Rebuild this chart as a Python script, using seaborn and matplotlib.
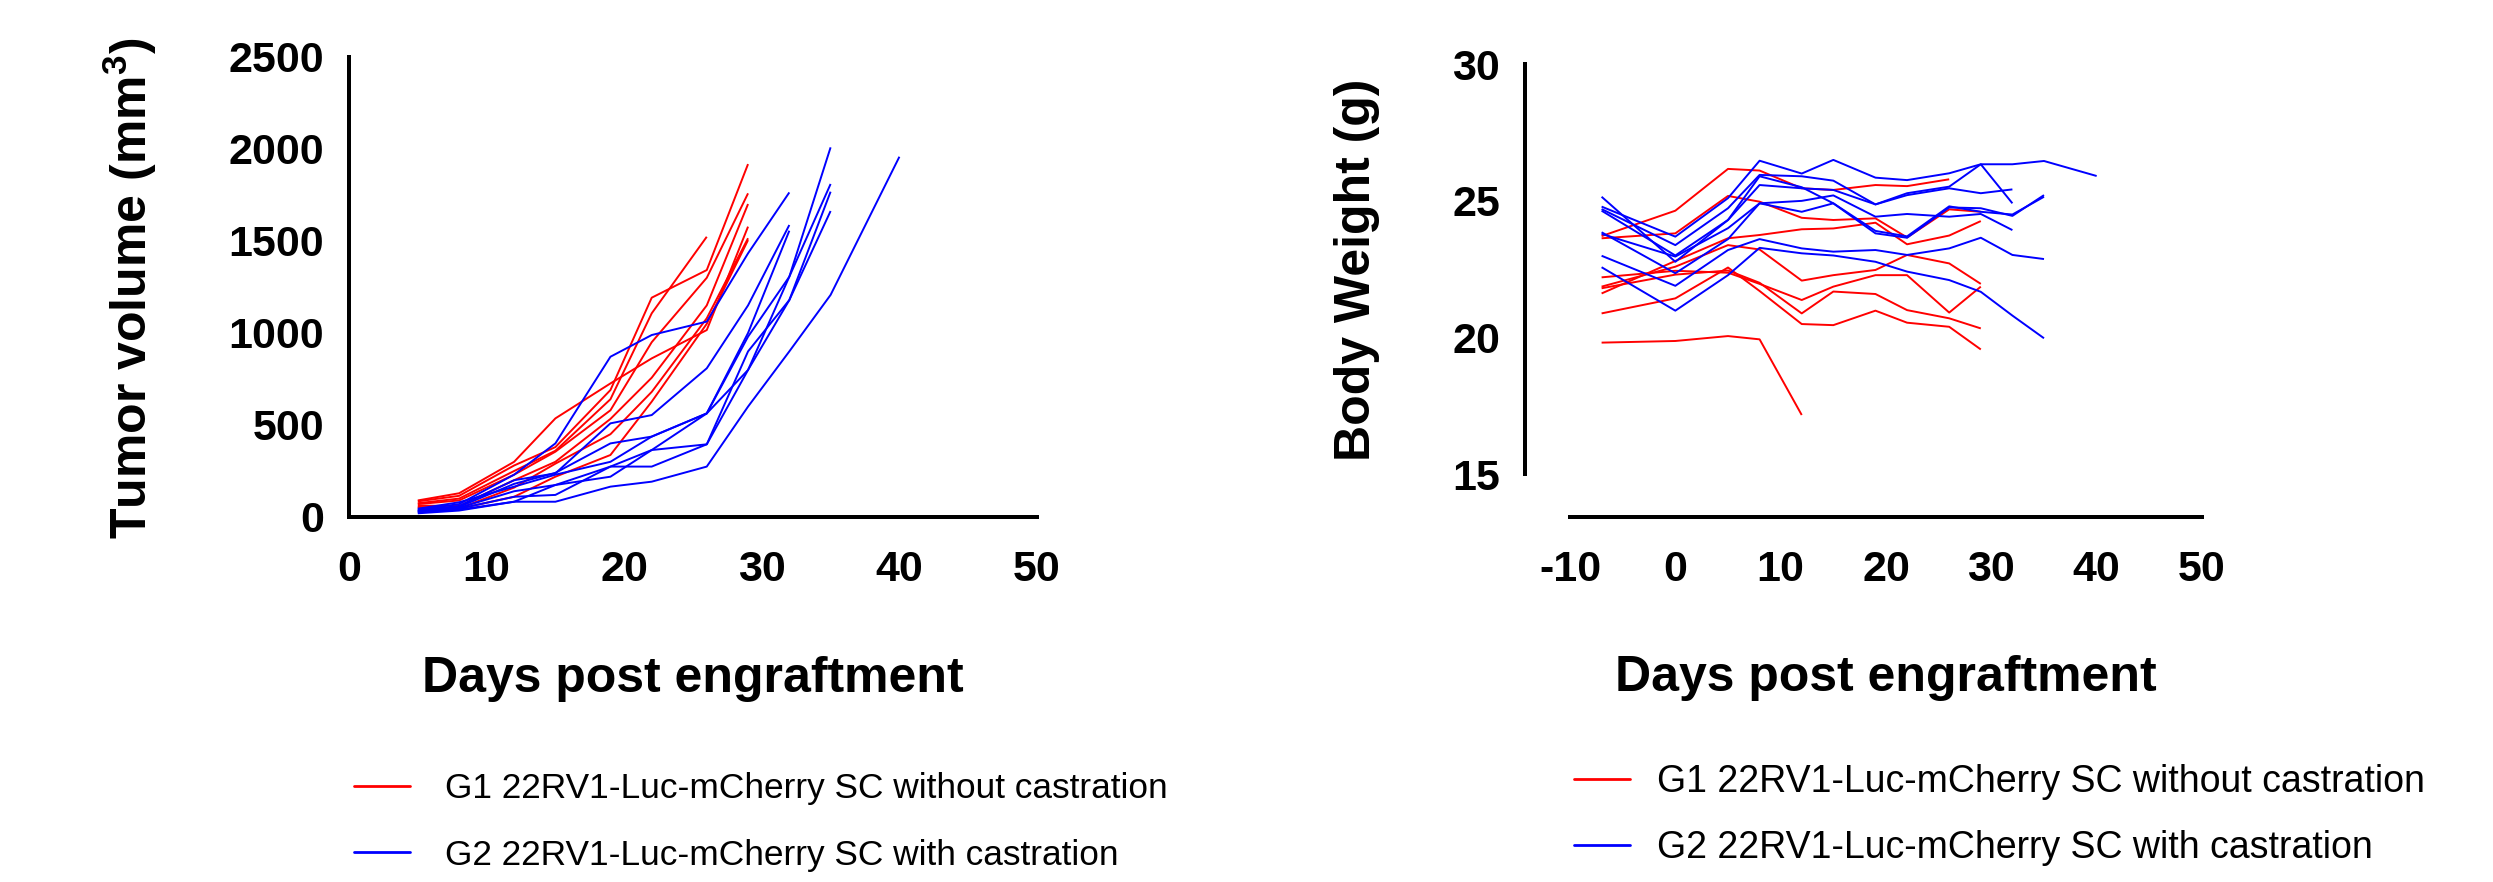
import numpy as np
import pandas as pd
import matplotlib
matplotlib.use("Agg")
import matplotlib.pyplot as plt
import seaborn as sns
from matplotlib.lines import Line2D

# ---------------- data ----------------
group_labels = ["G1 22RV1-Luc-mCherry SC without castration",
                "G2 22RV1-Luc-mCherry SC with castration"]
group_colors = ["#FF0000", "#0000FF"]

tumor_days = [5, 8, 12, 15, 19, 22, 26, 29, 32, 35, 40]
tumor_g1 = [
    [90, 129, 300, 536, 726, 862, 1016, 1578],
    [85, 115, 280, 380, 690, 1192, 1342, 1918],
    [75, 100, 250, 360, 640, 1107, 1523],
    [70, 90, 230, 355, 580, 950, 1300, 1759],
    [62, 60, 200, 300, 533, 757, 1150, 1701],
    [55, 47, 160, 290, 450, 680, 1080, 1515],
    [50, 45, 110, 219, 337, 627, 1050, 1505],
]
tumor_g2 = [
    [40, 70, 230, 400, 871, 989, 1062, 1433, 1764],
    [35, 60, 200, 237, 509, 554, 808, 1150, 1587],
    [30, 55, 180, 240, 400, 437, 563, 1000, 1556],
    [45, 80, 165, 230, 300, 437, 563, 980, 1306, 2009],
    [35, 50, 140, 174, 274, 364, 563, 799, 1306, 1810],
    [30, 45, 110, 120, 274, 274, 395, 900, 1179, 1768],
    [25, 40, 83, 174, 219, 364, 395, 799, 1179, 1663],
    [20, 35, 83, 83, 165, 192, 274, 600, 900, 1207, 1958],
]

weight_days = [-7, 0, 5, 8, 12, 15, 19, 22, 26, 29, 32, 35, 40]
weight_g1 = [
    [23.71, 24.64, 26.17, 26.11, 25.46, 25.40, 25.58, 25.54, 25.79],
    [23.63, 23.81, 25.18, 24.97, 24.38, 24.30, 24.36, 23.66, 24.69, 24.60],
    [21.61, 22.80, 23.63, 23.75, 23.96, 23.99, 24.20, 23.41, 23.73, 24.26],
    [21.86, 22.59, 23.38, 23.22, 22.08, 22.28, 22.47, 23.02, 22.71, 21.96],
    [22.20, 22.44, 22.37, 21.96, 21.37, 21.86, 22.28, 22.28, 20.91, 21.86],
    [21.80, 22.30, 22.45, 22.00, 20.88, 21.68, 21.59, 21.00, 20.70, 20.33],
    [20.88, 21.43, 22.56, 21.70, 20.49, 20.45, 20.98, 20.54, 20.39, 19.56],
    [19.81, 19.87, 20.05, 19.93, 17.16],
]
weight_g2 = [
    [24.79, 23.69, 25.10, 26.47, 26.00, 26.50, 25.85, 25.76, 26.01, 26.34, 24.91],
    [24.70, 23.38, 24.73, 25.95, 25.90, 25.74, 24.87, 25.28, 25.52, 26.34, 26.34, 26.46, 25.91],
    [24.64, 23.00, 24.30, 25.58, 25.46, 25.40, 24.87, 25.21, 25.46, 25.28, 25.42],
    [25.15, 22.77, 24.30, 25.90, 25.50, 24.91, 23.81, 23.65, 24.76, 24.73, 24.45, 25.21],
    [23.79, 22.96, 24.00, 24.91, 24.60, 24.91, 23.90, 23.70, 24.80, 24.60, 24.50, 25.15],
    [23.85, 22.35, 23.60, 24.91, 25.00, 25.20, 24.42, 24.52, 24.42, 24.52, 23.93],
    [22.99, 21.89, 23.20, 23.60, 23.26, 23.14, 23.20, 23.02, 23.26, 23.65, 23.02, 22.87],
    [22.57, 20.98, 22.28, 23.28, 23.08, 23.00, 22.77, 22.41, 22.10, 21.67, 20.80, 19.97],
]

tumor_xticks = [0, 10, 20, 30, 40, 50]
tumor_yticks = [0, 500, 1000, 1500, 2000, 2500]
weight_xticks = [-10, 0, 10, 20, 30, 40, 50]
weight_yticks = [15, 20, 25, 30]


def to_long(days, groups):
    rows = []
    for gi, mice in enumerate(groups):
        for mi, vals in enumerate(mice):
            for d, v in zip(days, vals):
                rows.append({"day": d, "value": v, "group": group_labels[gi],
                             "mouse": f"{gi}-{mi}"})
    return pd.DataFrame(rows)


df_tumor = to_long(tumor_days, [tumor_g1, tumor_g2])
df_weight = to_long(weight_days, [weight_g1, weight_g2])

# ---------------- style ----------------
sns.set_theme(style="white")
plt.rcParams["font.family"] = ["Liberation Sans", "DejaVu Sans"]
plt.rcParams["axes.unicode_minus"] = False
plt.rcParams["mathtext.fontset"] = "custom"
plt.rcParams["mathtext.bf"] = "Liberation Sans:bold"
plt.rcParams["mathtext.rm"] = "Liberation Sans:bold"
plt.rcParams["text.color"] = "black"
plt.rcParams["axes.labelcolor"] = "black"
plt.rcParams["xtick.color"] = "black"
plt.rcParams["ytick.color"] = "black"
plt.rcParams["legend.labelcolor"] = "black"

W, H = 2493, 882
fig = plt.figure(figsize=(W / 100, H / 100), dpi=100)
palette = dict(zip(group_labels, group_colors))

PX = 0.72  # points per pixel at 100 dpi
spine_w = 4 * PX
tick_fs = 31
label_fs = 36


def fx(x):
    return x / W


def fy(y):
    return 1 - y / H


# left axes (tumor volume)
ax1 = fig.add_axes([fx(349), fy(517), fx(1037 - 349), (517 - 57) / H])
sns.lineplot(data=df_tumor, x="day", y="value", hue="group", units="mouse",
             estimator=None, sort=False, palette=palette, linewidth=1.4,
             legend=False, ax=ax1)
ax1.set_xlim(0, 50)
ax1.set_ylim(0, 2500)
ax1.set_xticks(tumor_xticks)
ax1.set_yticks(tumor_yticks)

# right axes (body weight)
ax2 = fig.add_axes([fx(1570), fy(474), fx(2202 - 1570), (474 - 64.3) / H])
sns.lineplot(data=df_weight, x="day", y="value", hue="group", units="mouse",
             estimator=None, sort=False, palette=palette, linewidth=1.4,
             legend=False, ax=ax2)
ax2.set_xlim(-10, 50)
ax2.set_ylim(15, 30)
ax2.set_xticks(weight_xticks)
ax2.set_yticks(weight_yticks)
ax2.spines["left"].set_position(("outward", 45 * PX))
ax2.spines["bottom"].set_position(("outward", 43 * PX))

for ax in (ax1, ax2):
    ax.set_facecolor("none")
    for s in ("top", "right"):
        ax.spines[s].set_visible(False)
    for s in ("left", "bottom"):
        ax.spines[s].set_linewidth(spine_w)
        ax.spines[s].set_color("black")
        ax.spines[s].set_capstyle("projecting")
    ax.set_xlabel("")
    ax.set_ylabel("")
    ax.tick_params(axis="both", which="major", direction="out", color="black",
                   width=spine_w, labelsize=tick_fs, labelcolor="black")
    ax.tick_params(axis="x", length=21 * PX, pad=12 * PX)
    ax.tick_params(axis="y", length=19 * PX, pad=6 * PX)
    for lab in ax.get_xticklabels() + ax.get_yticklabels():
        lab.set_fontweight("bold")
    for ln in ax.get_lines():
        ln.set_solid_capstyle("butt")

# axis titles
fig.text(fx(130), fy(288), r"Tumor volume (mm$\mathbf{^3}$)", rotation=90,
         ha="center", va="center", fontsize=label_fs, fontweight="bold",
         color="black")
fig.text(fx(1357), fy(270), "Body Weight (g)", rotation=90,
         ha="center", va="center", fontsize=label_fs, fontweight="bold",
         color="black")
fig.text(fx(693), fy(692), "Days post engraftment", ha="center", va="baseline",
         fontsize=label_fs, fontweight="bold", color="black")
fig.text(fx(1886), fy(691), "Days post engraftment", ha="center", va="baseline",
         fontsize=label_fs, fontweight="bold", color="black")

# legends
handles = [Line2D([0], [0], color=c, lw=2) for c in group_colors]
legend_specs = [
    # axes, handle start x, centre y, font size, handletextpad, labelspacing
    (ax1, 354, 822, 25.35, 1.0, 0.94),
    (ax2, 1574, 815, 27.0, 0.72, 0.78),
]
for ax, x0, yc, fs, htp, ls in legend_specs:
    leg = ax.legend(handles, group_labels, loc="center left",
                    bbox_to_anchor=(fx(x0), fy(yc)),
                    bbox_transform=fig.transFigure,
                    frameon=False, fontsize=fs, handlelength=40 / fs,
                    handletextpad=htp, labelspacing=ls, borderpad=0,
                    borderaxespad=0)
    for t in leg.get_texts():
        t.set_color("black")

fig.savefig("out.png", dpi=100, facecolor="white")
